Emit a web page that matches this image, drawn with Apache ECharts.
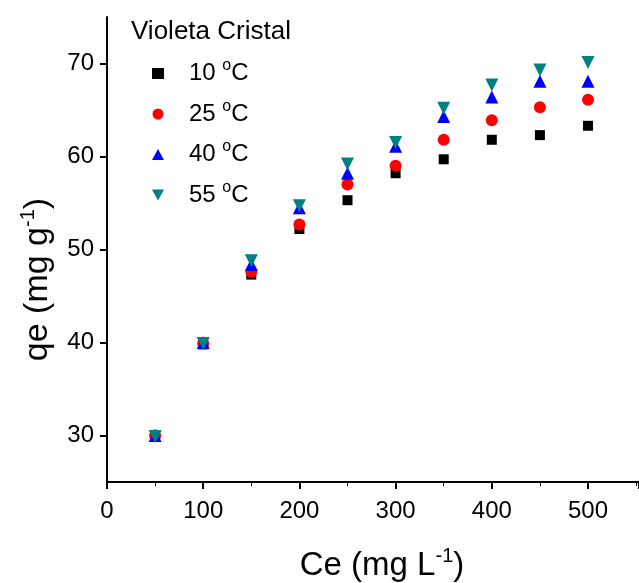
<!DOCTYPE html>
<html><head><meta charset="utf-8">
<script src="https://cdn.jsdelivr.net/npm/echarts@6/dist/echarts.min.js"></script>
<style>html,body{margin:0;padding:0;background:#fff}#c{width:639px;height:583px}</style>
</head><body><div id="c"></div>
<script>
const ce = [50, 100, 150, 200, 250, 300, 350, 400, 450, 500];
const q10 = [29.9, 39.8, 47.3, 52.2, 55.3, 58.2, 59.7, 61.8, 62.3, 63.3];
const q25 = [30.0, 39.9, 47.6, 52.7, 57.0, 59.0, 61.8, 63.9, 65.3, 66.1];
const q40 = [30.0, 40.0, 48.4, 54.5, 58.2, 61.1, 64.3, 66.4, 68.1, 68.1];
const q55 = [29.9, 39.9, 48.8, 54.7, 59.2, 61.5, 65.2, 67.7, 69.3, 70.1];
const seriesNames = ['10', '25', '40', '55'];
const xTicks = [0, 100, 200, 300, 400, 500];
const yTicks = [30, 40, 50, 60, 70];
const font = 'Liberation Sans, Arial, sans-serif';

const chart = echarts.init(document.getElementById('c'), null, {renderer: 'canvas'});
const pair = arr => ce.map((x, i) => [x, arr[i]]);
const defs = [
  {data: q10, symbol: 'rect', size: 10, color: '#000000', rot: 0, icon: 'rect'},
  {data: q25, symbol: 'circle', size: 12, color: '#ff0000', rot: 0, icon: 'circle'},
  {data: q40, symbol: 'triangle', size: 13, color: '#0000ff', rot: 0, icon: 'triangle'},
  {data: q55, symbol: 'triangle', size: 13, color: '#008080', rot: 180, icon: 'path://M0,0L10,0L5,9Z'}
];
const supStyle = fs => ({fontFamily: font, fontSize: fs, color: '#000', verticalAlign: 'bottom', padding: [0, 0, Math.round(fs * 0.95), 0]});
chart.setOption({
  animation: false,
  title: {text: 'Violeta Cristal', left: 126, top: 14,
    textStyle: {fontFamily: font, fontSize: 26, fontWeight: 'normal', color: '#000'}},
  legend: {
    orient: 'vertical', left: 147, top: 53, itemWidth: 12, itemHeight: 11, itemGap: 13,
    data: seriesNames.map((n, i) => ({name: n + ' C', icon: defs[i].icon})),
    formatter: name => '   ' + name.split(' ')[0] + ' {sup|o}C',
    textStyle: {fontFamily: font, fontSize: 24, color: '#000', rich: {sup: supStyle(16)}}
  },
  grid: {left: 107, right: 0, top: 17, bottom: 101, containLabel: false, outerBoundsMode: 'none'},
  xAxis: {
    type: 'value', min: 0, max: 553, interval: 100,
    name: 'Ce (mg L{sup|-1})', nameLocation: 'middle', nameGap: 64,
    nameTextStyle: {fontFamily: font, fontSize: 33, color: '#000', padding: [0, 0, 0, 18], rich: {sup: supStyle(20)}},
    axisLine: {lineStyle: {color: '#000', width: 2}},
    axisTick: {inside: false, length: 7, lineStyle: {color: '#000', width: 2}},
    minorTick: {show: true, splitNumber: 2, length: 4, lineStyle: {color: '#000', width: 1}},
    axisLabel: {fontFamily: font, fontSize: 24, color: '#000', margin: 17, customValues: xTicks},
    splitLine: {show: false}
  },
  yAxis: {
    type: 'value', min: 25, max: 75,
    name: 'qe (mg g{sup|-1})', nameLocation: 'middle', nameGap: 50, nameRotate: 90,
    nameTextStyle: {fontFamily: font, fontSize: 34, color: '#000', padding: [0, 60, 0, 0], rich: {sup: supStyle(20)}},
    axisLine: {show: true, lineStyle: {color: '#000', width: 2}},
    axisTick: {show: true, inside: false, length: 7, lineStyle: {color: '#000', width: 2}, customValues: yTicks},
    axisLabel: {fontFamily: font, fontSize: 24, color: '#000', margin: 13, customValues: yTicks},
    splitLine: {show: false}
  },
  series: defs.map((d, i) => ({
    name: seriesNames[i] + ' C', type: 'scatter', data: pair(d.data),
    symbol: d.symbol, symbolSize: d.size, symbolRotate: d.rot,
    itemStyle: {color: d.color, opacity: 1}, z: 2 + i
  }))
});
</script></body></html>
